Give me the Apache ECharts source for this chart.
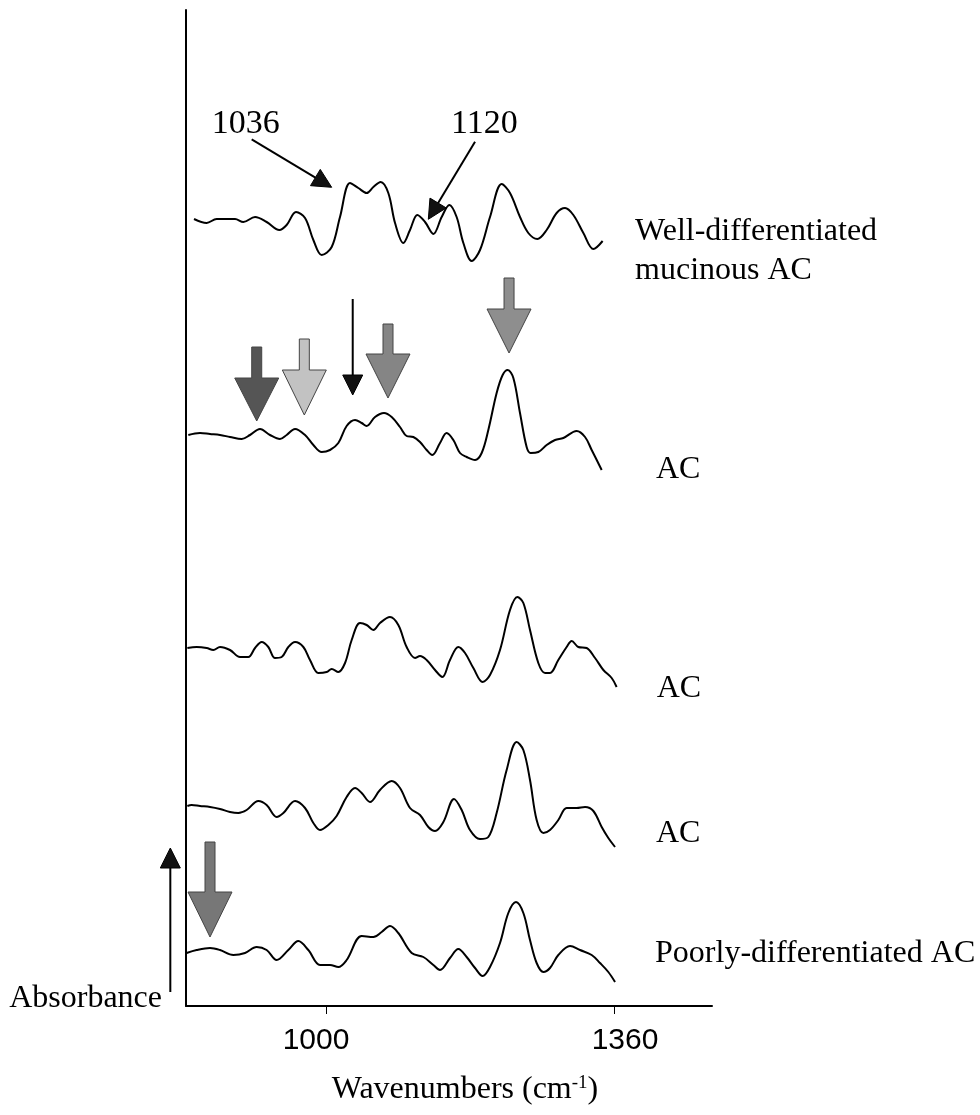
<!DOCTYPE html>
<html><head><meta charset="utf-8">
<script src="https://cdn.jsdelivr.net/npm/echarts@6/dist/echarts.min.js"></script>
<style>html,body{margin:0;padding:0;background:#fff}#c{width:980px;height:1115px}</style>
</head><body><div id="c"></div>
<script>
// ---- data (wavenumber cm^-1, absorbance a.u. with vertical offsets as drawn) ----
const xTicks = [1000, 1360];
const names = ['Well-differentiated mucinous AC', 'AC', 'AC', 'AC', 'Poorly-differentiated AC'];

const wn1 = [835.0,850.8,863.3,886.3,896.7,911.3,925.8,941.7,950.8,962.5,973.8,984.2,994.6,1007.1,1017.5,1030.0,1040.4,1050.8,1059.2,1068.3,1077.9,1086.3,1096.7,1105.0,1114.2,1123.8,1134.2,1144.6,1154.2,1163.3,1171.7,1182.1,1192.5,1205.0,1219.6,1230.0,1242.5,1252.9,1264.2,1275.8,1288.3,1298.8,1309.2,1321.7,1334.2,1345.8];
const ab1 = [78.7,78.3,78.7,78.7,78.4,78.9,78.4,77.6,78.1,79.4,78.8,76.6,75.1,75.9,78.9,82.3,81.8,81.3,81.9,82.4,81.3,78.3,76.3,77.6,79.1,78.4,77.2,78.9,80.1,78.9,76.3,74.5,75.6,78.9,82.2,81.3,78.9,77.3,76.7,77.6,79.3,79.8,79.1,77.3,75.7,76.5];

const wn2 = [827.9,842.5,855.0,867.5,880.0,894.6,905.0,917.5,930.0,942.5,950.8,961.3,973.8,984.2,994.6,1005.0,1015.4,1025.8,1036.3,1044.6,1050.8,1061.3,1072.5,1082.1,1092.5,1100.8,1109.2,1117.5,1125.8,1132.9,1142.5,1150.8,1159.2,1167.5,1175.8,1186.3,1194.6,1202.9,1213.3,1220.8,1227.1,1234.2,1242.5,1250.8,1255.8,1265.4,1275.8,1286.3,1296.7,1313.3,1323.8,1332.1,1344.6];
const ab2 = [57.1,57.3,57.2,57.1,56.9,56.7,57.1,57.7,57.1,56.7,57.1,57.7,57.1,56.1,55.4,55.6,56.3,58.0,58.6,58.3,58.0,58.9,59.3,58.9,57.9,57.0,56.9,56.4,55.6,55.1,56.3,57.3,56.6,55.3,54.9,54.6,55.3,57.6,61.3,63.1,63.6,62.8,59.3,55.9,55.3,55.4,56.1,56.6,56.8,57.5,56.9,55.6,53.6];

const wn3 = [826.7,838.3,850.8,859.2,867.5,880.0,892.5,902.9,911.3,919.6,927.9,936.3,944.6,952.9,961.3,971.7,980.0,990.4,1000.8,1007.1,1015.4,1023.8,1032.1,1042.5,1050.8,1059.2,1067.5,1080.0,1090.4,1100.8,1111.3,1117.5,1125.8,1136.3,1145.4,1155.0,1165.4,1173.8,1184.2,1195.8,1205.0,1217.5,1230.0,1239.2,1246.7,1255.0,1265.4,1273.8,1280.0,1290.4,1300.8,1307.1,1315.4,1325.8,1336.3,1346.7,1357.1,1363.3];
const ab3 = [35.8,35.9,35.8,35.6,35.9,35.6,34.9,34.9,35.8,36.4,35.9,34.8,34.9,35.9,36.4,35.9,34.6,33.3,33.4,33.7,33.4,34.3,36.6,38.3,38.1,37.6,38.3,38.9,38.1,35.9,34.8,35.0,34.6,33.6,32.9,34.6,35.9,35.3,33.8,32.4,33.1,35.6,39.6,40.9,40.3,37.6,34.3,33.3,33.3,34.6,35.9,36.5,35.9,35.8,34.8,33.6,32.8,31.9];

const wn4 = [826.7,832.1,842.5,855.0,867.5,880.0,890.4,900.8,915.4,925.8,938.3,946.7,961.3,973.8,984.2,992.5,1002.9,1013.3,1025.8,1036.3,1044.6,1055.0,1067.5,1082.1,1092.5,1105.0,1117.5,1127.9,1136.3,1146.7,1160.0,1169.6,1180.0,1192.5,1202.9,1213.3,1225.8,1238.3,1246.7,1255.0,1263.3,1271.7,1280.0,1290.4,1300.8,1313.3,1323.8,1334.2,1344.6,1352.9,1361.3];
const ab4 = [20.0,20.1,20.0,19.9,19.7,19.4,19.3,19.6,20.5,20.1,18.9,19.3,20.5,19.8,18.3,17.6,18.1,19.0,20.9,21.8,21.3,20.4,21.6,22.5,21.8,19.8,19.1,17.9,17.5,18.4,20.7,19.6,17.6,16.7,16.9,19.3,23.6,26.4,25.6,22.6,18.6,17.3,17.6,18.6,19.8,19.8,19.9,19.5,17.9,16.8,15.9];

const wn5 = [825.8,838.3,855.0,867.5,884.2,898.8,913.3,925.8,938.3,952.9,965.4,977.9,992.5,1005.0,1015.4,1025.8,1044.6,1059.2,1069.6,1080.0,1090.4,1107.1,1121.7,1134.2,1142.5,1155.0,1165.4,1175.8,1186.3,1195.8,1205.0,1217.5,1227.9,1237.5,1246.7,1255.0,1263.3,1271.7,1280.0,1290.4,1305.0,1317.5,1332.1,1342.5,1352.9,1361.3];
const ab5 = [5.3,5.6,5.8,5.6,5.1,5.3,5.9,5.6,4.6,5.6,6.5,5.6,4.1,4.1,3.9,4.6,7.0,6.9,7.4,8.0,7.3,5.3,4.9,4.1,3.6,4.8,5.7,4.9,3.8,3.0,3.9,6.3,9.3,10.4,9.3,6.6,4.3,3.4,3.8,5.1,6.0,5.6,5.1,4.3,3.4,2.4];

// annotation anchors in data units
const peakNotes = [
  {text: '1036', label: [899.8, 88.15], tail: [907.1, 86.67], tip: [1007.1, 81.87]},
  {text: '1120', label: [1198.1, 88.15], tail: [1186.3, 86.43], tip: [1127.9, 78.67]}
];
const blockArrows = [ // wavenumber, top, head base, tip
  {x: 913.4, top: 65.9, head: 62.8, tip: 58.5, fill: '#555555'},
  {x: 972.9, top: 66.7, head: 63.6, tip: 59.1, fill: '#c2c2c2'},
  {x: 1077.5, top: 68.2, head: 65.2, tip: 60.8, fill: '#858585'},
  {x: 1228.8, top: 72.8, head: 69.7, tip: 65.3, fill: '#8e8e8e'},
  {x: 855.0, top: 16.4, head: 11.4, tip: 6.9, fill: '#777777'}
];
const thinArrow = {x: 1033.4, top: 70.7, tip: 61.1};
const absArrow = {x: 805.4, bottom: 1.4, tip: 15.8};
const sampleLabels = [
  {lines: ['Well-differentiated', 'mucinous AC'], x: 1386.3, y: [77.4, 73.5]},
  {lines: ['AC'], x: 1412.5, y: [53.6]},
  {lines: ['AC'], x: 1413.4, y: [31.7]},
  {lines: ['AC'], x: 1412.5, y: [17.2]},
  {lines: ['Poorly-differentiated AC'], x: 1411.3, y: [5.2]}
];

const spectra = [[wn1, ab1], [wn2, ab2], [wn3, ab3], [wn4, ab4], [wn5, ab5]];

const chart = echarts.init(document.getElementById('c'), null, {renderer: 'canvas'});
const SERIF = '"Liberation Serif", "Times New Roman", serif';
const SANS = '"Liberation Sans", Arial, sans-serif';

chart.setOption({
  animation: false,
  backgroundColor: '#fff',
  grid: {left: 186, top: 10, width: 526, height: 996, containLabel: false},
  xAxis: {
    type: 'value', min: 825, max: 1482.5,
    axisLine: {show: true, onZero: false, lineStyle: {color: '#000', width: 2}},
    axisTick: {show: true, customValues: xTicks, length: 8, lineStyle: {color: '#000', width: 1}},
    axisLabel: {
      show: true, customValues: xTicks, color: '#000', fontFamily: SANS, fontSize: 30, margin: 20,
      formatter: v => (v === xTicks[0] ? '{l|' : '{r|') + String(v) + '}',
      rich: {
        l: {fontFamily: SANS, fontSize: 30, color: '#000', padding: [0, 20, 0, 0]},
        r: {fontFamily: SANS, fontSize: 30, color: '#000', padding: [0, 0, 0, 22]}
      }
    },
    splitLine: {show: false}
  },
  yAxis: {
    type: 'value', min: 0, max: 99.6,
    axisLine: {show: true, onZero: false, lineStyle: {color: '#000', width: 2}},
    axisTick: {show: false}, axisLabel: {show: false}, splitLine: {show: false}
  },
  series: spectra.map((s, i) => ({
    name: names[i], type: 'line', showSymbol: false, smooth: 0.35,
    lineStyle: {color: '#000', width: 2},
    data: s[0].map((w, k) => [w, s[1][k]])
  }))
});

function P(x, y) { return chart.convertToPixel({gridIndex: 0}, [x, y]); }

function lineArrow(tail, tip, L, W, width) {
  const a = P(tail[0], tail[1]), b = P(tip[0], tip[1]);
  const dx = b[0] - a[0], dy = b[1] - a[1], len = Math.hypot(dx, dy);
  const ux = dx / len, uy = dy / len, nx = -uy, ny = ux;
  const bx = b[0] - ux * L, by = b[1] - uy * L;
  return [
    {type: 'line', shape: {x1: a[0], y1: a[1], x2: bx, y2: by}, style: {stroke: '#000', lineWidth: width}},
    {type: 'polygon', shape: {points: [[b[0], b[1]], [bx + nx * W, by + ny * W], [bx - nx * W, by - ny * W]]}, style: {fill: '#111', stroke: '#000', lineWidth: 1}}
  ];
}

const g = [];
peakNotes.forEach(n => {
  const p = P(n.label[0], n.label[1]);
  g.push({type: 'text', x: p[0], y: p[1], style: {text: n.text, font: '34px ' + SERIF, fill: '#000', textAlign: 'center', textVerticalAlign: 'middle'}});
  g.push(...lineArrow(n.tail, n.tip, 19, 9.5, 2));
});
blockArrows.forEach(a => {
  const t = P(a.x, a.top), h = P(a.x, a.head), tp = P(a.x, a.tip);
  const cx = t[0], sw = 5, hw = 22;
  g.push({type: 'polygon', shape: {points: [[cx - sw, t[1]], [cx + sw, t[1]], [cx + sw, h[1]], [cx + hw, h[1]], [cx, tp[1]], [cx - hw, h[1]], [cx - sw, h[1]]]},
    style: {fill: a.fill, stroke: '#444', lineWidth: 1}});
});
g.push(...lineArrow([thinArrow.x, thinArrow.top], [thinArrow.x, thinArrow.tip], 20, 10, 2));
g.push(...lineArrow([absArrow.x, absArrow.bottom], [absArrow.x, absArrow.tip], 20, 10, 2));

sampleLabels.forEach(l => {
  l.lines.forEach((t, k) => {
    const p = P(l.x, l.y[k]);
    g.push({type: 'text', x: p[0], y: p[1], style: {text: t, font: '32px ' + SERIF, fill: '#000', textAlign: 'left', textVerticalAlign: 'middle'}});
  });
});

// axis names
g.push({type: 'text', x: 162, y: 999, style: {text: 'Absorbance', font: '32px ' + SERIF, fill: '#000', textAlign: 'right', textVerticalAlign: 'middle'}});
g.push({type: 'text', x: 465, y: 1090, style: {
  text: '{a|Wavenumbers (cm}{s|-1}{a|)}', textAlign: 'center', textVerticalAlign: 'middle',
  rich: {a: {fontFamily: SERIF, fontSize: 32, fill: '#000'}, s: {fontFamily: SERIF, fontSize: 19, fill: '#000', verticalAlign: 'top'}}
}});

chart.setOption({graphic: g});
</script>
</body></html>
